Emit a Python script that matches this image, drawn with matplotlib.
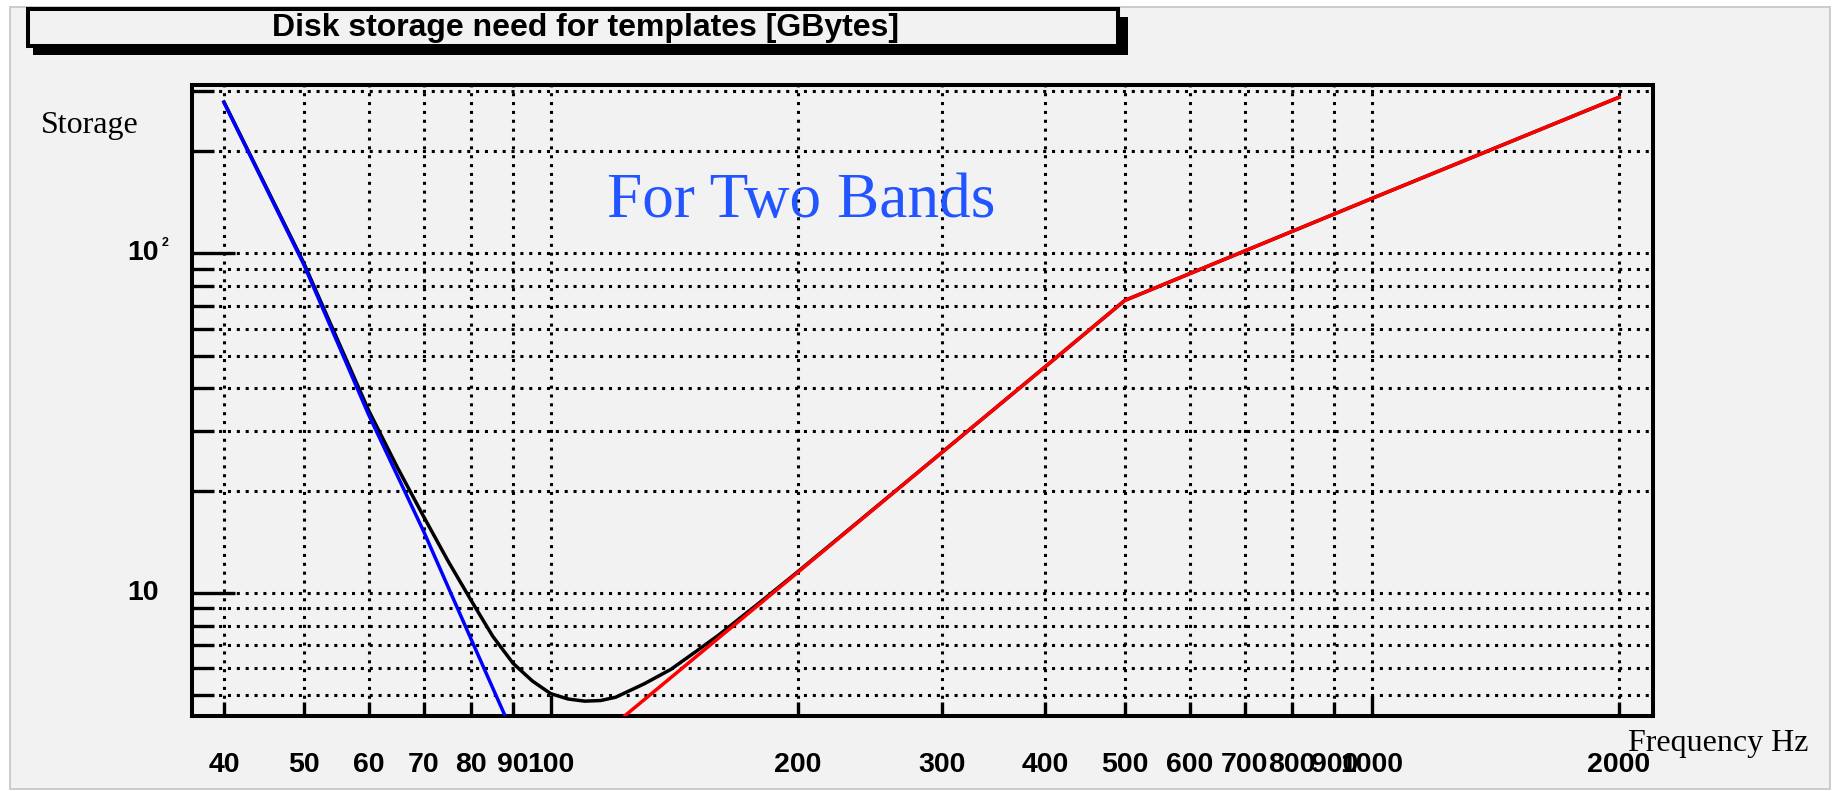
import numpy as np
import matplotlib.pyplot as plt
from matplotlib.patches import Rectangle
from matplotlib.ticker import FixedLocator, FixedFormatter, NullFormatter
import matplotlib.transforms as mtransforms

plt.rcParams['font.family'] = ['Liberation Sans', 'DejaVu Sans']

# valores (frequencia em Hz, armazenamento em GBytes)
blue_freq = [40, 50, 60, 70, 80, 88]
blue_storage = [278, 93, 33.5, 15.2, 7.3, 4.34]

black_freq = [40, 50, 60, 65, 70, 75, 80, 85, 90, 95, 100, 105, 110, 115, 120,
              130, 140, 150, 160, 180, 200, 300, 400, 500, 1000, 2000]
black_storage = [279, 94, 34.5, 23.5, 16.8, 12.4, 9.5, 7.45, 6.2, 5.5, 5.05, 4.87, 4.8,
                 4.82, 4.93, 5.4, 5.95, 6.7, 7.5, 9.4, 11.55, 26, 46.3, 72.6, 145, 288]

red_freq = [123, 200, 300, 400, 500, 1000, 2000]
red_storage = [4.34, 11.5, 26, 46.3, 72.6, 145, 288]

x_major = [100, 1000]
x_minor = [40, 50, 60, 70, 80, 90, 200, 300, 400, 500, 600, 700, 800, 900, 2000]
y_major = [10, 100]
y_minor = [5, 6, 7, 8, 9, 20, 30, 40, 50, 60, 70, 80, 90, 200, 300]

W, H = 1837, 791
BG = '#f2f2f2'

fig = plt.figure(figsize=(W / 100, H / 100), dpi=100, facecolor='white')

def fx(px):
    return px / W

def fy(py):
    return 1 - py / H

# fundo cinza do canvas
fig.patches.append(Rectangle((fx(10), fy(789)), fx(1830) - fx(10), fy(7) - fy(789),
                             transform=fig.transFigure, facecolor=BG,
                             edgecolor='#c4c4c4', linewidth=1.2, zorder=-10))

# caixa do titulo com sombra
fig.patches.append(Rectangle((fx(33), fy(55)), fx(1128) - fx(33), fy(17) - fy(55),
                             transform=fig.transFigure, facecolor='black',
                             edgecolor='none', zorder=1))
fig.patches.append(Rectangle((fx(28), fy(46)), fx(1118) - fx(28), fy(9) - fy(46),
                             transform=fig.transFigure, facecolor=BG,
                             edgecolor='black', linewidth=2.9, zorder=2))
fig.text(fx(586), fy(28), 'Disk storage need for templates [GBytes]',
         ha='center', va='center', fontsize=23, fontweight='bold', zorder=3)

ax = fig.add_axes([fx(192), fy(716), fx(1653) - fx(192), fy(85) - fy(716)])
ax.set_zorder(5)
ax.set_facecolor(BG)
ax.set_xscale('log')
ax.set_yscale('log')
ax.set_xlim(36.57, 2200)
ax.set_ylim(4.34, 313)

ax.plot(black_freq, black_storage, color='black', linewidth=2.5, zorder=3)
ax.plot(blue_freq, blue_storage, color='#0000ff', linewidth=2.5, zorder=4)
ax.plot(red_freq, red_storage, color='#ff0000', linewidth=2.5, zorder=5)

ax.xaxis.set_major_locator(FixedLocator(x_major))
ax.xaxis.set_minor_locator(FixedLocator(x_minor))
ax.xaxis.set_major_formatter(FixedFormatter([str(v) for v in x_major]))
ax.xaxis.set_minor_formatter(FixedFormatter([str(v) for v in x_minor]))
ax.yaxis.set_major_locator(FixedLocator(y_major))
ax.yaxis.set_minor_locator(FixedLocator(y_minor))
ax.yaxis.set_major_formatter(NullFormatter())
ax.yaxis.set_minor_formatter(NullFormatter())

ax.tick_params(axis='x', which='major', direction='in', length=14.4, width=2.4,
               pad=26, labelsize=20.5)
ax.tick_params(axis='x', which='minor', direction='in', length=10, width=2.4,
               pad=26, labelsize=20.5)
ax.tick_params(axis='y', which='major', direction='in', length=31, width=2.4)
ax.tick_params(axis='y', which='minor', direction='in', length=16, width=2.4)
for lbl in ax.get_xticklabels(which='both'):
    lbl.set_fontweight('bold')

ax.grid(which='both', color='black', linestyle=(0, (1.0, 1.9)), linewidth=2.2)

for s in ax.spines.values():
    s.set_linewidth(2.9)

# rotulos do eixo y
trans = mtransforms.blended_transform_factory(ax.transAxes, ax.transData)
ax.text(-0.023, 10, '10', transform=trans, ha='right', va='center',
        fontsize=20.5, fontweight='bold')
ax.text(-0.023, 100, '10', transform=trans, ha='right', va='center',
        fontsize=20.5, fontweight='bold')
sup = mtransforms.offset_copy(trans, fig=fig, x=3, y=10, units='dots')
ax.text(-0.023, 100, '2', transform=sup, ha='left', va='center',
        fontsize=9, fontweight='bold')

serif = ['Liberation Serif', 'DejaVu Serif']
fig.text(fx(41), fy(125), 'Storage', ha='left', va='center',
         fontsize=23, family=serif)
fig.text(fx(1628), fy(743), 'Frequency Hz', ha='left', va='center',
         fontsize=23, family=serif)
ax.text(0.417, 0.815, 'For Two Bands', transform=ax.transAxes, ha='center',
        va='center', fontsize=45.5, family=serif, color='#2255ff', zorder=6)

plt.savefig('out.png', dpi=100, facecolor=fig.get_facecolor())
plt.close()
